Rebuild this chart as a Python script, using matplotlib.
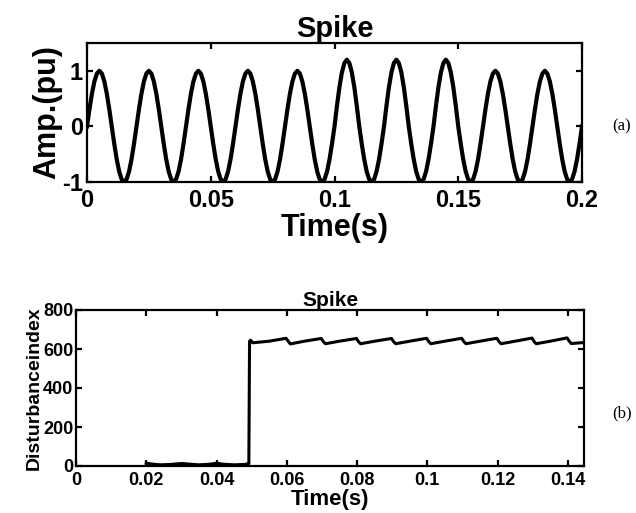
import numpy as np
import matplotlib
matplotlib.use("Agg")
import matplotlib.pyplot as plt

# ---------------- data (a): sampled waveform, 1 ms step ----------------
sample_step = 0.001
# one normalised cycle (20 samples)
cycle_shape = [0.0, 0.31, 0.59, 0.81, 0.95, 1.0, 0.95, 0.81, 0.59, 0.31,
               0.0, -0.31, -0.59, -0.81, -0.95, -1.0, -0.95, -0.81, -0.59, -0.31]
# positive peak amplitude of each of the 10 cycles (spike on cycles 6-8)
peak_amp = [1.0, 1.0, 1.0, 1.0, 1.0, 1.2, 1.2, 1.2, 1.0, 1.0]
# negative peak amplitude of each cycle
trough_amp = [1.0, 1.0, 1.0, 1.0, 1.0, 1.0, 1.0, 1.0, 1.0, 1.0]
end_value = 0.0

# ---------------- data (b): disturbance index ----------------
di_time = [0.0200, 0.0215, 0.0240, 0.0270, 0.0300, 0.0320, 0.0350, 0.0380, 0.0400,
           0.0420, 0.0450, 0.0480, 0.0492, 0.0494, 0.0497, 0.0503,
           0.0550, 0.0598, 0.0604, 0.0610,
           0.0650, 0.0698, 0.0704, 0.0710,
           0.0750, 0.0798, 0.0804, 0.0810,
           0.0850, 0.0898, 0.0904, 0.0910,
           0.0950, 0.0998, 0.1004, 0.1010,
           0.1050, 0.1098, 0.1104, 0.1110,
           0.1150, 0.1198, 0.1204, 0.1210,
           0.1250, 0.1298, 0.1304, 0.1310,
           0.1350, 0.1398, 0.1404, 0.1410, 0.1450]
di_value = [15, 10, 6, 8, 13, 10, 6, 9, 14,
            9, 6, 8, 12, 640, 645, 632,
            640, 655, 640, 626,
            640, 654, 638, 627,
            640, 654, 638, 627,
            640, 654, 638, 627,
            640, 655, 638, 627,
            640, 655, 638, 627,
            640, 655, 638, 627,
            640, 656, 638, 627,
            640, 657, 640, 628, 634]

top_xticks = [0, 0.05, 0.1, 0.15, 0.2]
top_xticklabels = ["0", "0.05", "0.1", "0.15", "0.2"]
top_yticks = [-1, 0, 1]
bot_xticks = [0, 0.02, 0.04, 0.06, 0.08, 0.1, 0.12, 0.14]
bot_xticklabels = ["0", "0.02", "0.04", "0.06", "0.08", "0.1", "0.12", "0.14"]
bot_yticks = [0, 200, 400, 600, 800]

# assemble waveform from the read cycle samples
wave = []
for pa, ta in zip(peak_amp, trough_amp):
    for v in cycle_shape:
        wave.append(v * pa if v >= 0 else v * ta)
wave.append(end_value)
wave = np.array(wave)
t_wave = np.arange(len(wave)) * sample_step

plt.rcParams['font.family'] = ['Liberation Sans', 'DejaVu Sans']
plt.rcParams['axes.unicode_minus'] = False

fig = plt.figure(figsize=(6.36, 5.13), dpi=100)

def style(ax, lw):
    for s in ax.spines.values():
        s.set_linewidth(lw)
    ax.tick_params(direction='in', top=True, right=True, width=lw, length=4)

# ---- top panel ----
ax1 = fig.add_axes([87/636, 1-182/513, 495/636, 139/513])
ax1.plot(t_wave, wave, color='black', lw=3.0, solid_joinstyle='round')
ax1.set_xlim(0, 0.2)
ax1.set_ylim(-1, 1.5)
ax1.set_xticks(top_xticks)
ax1.set_xticklabels(top_xticklabels)
ax1.set_yticks(top_yticks)
style(ax1, 1.6)
ax1.tick_params(labelsize=17)
ax1.tick_params(axis='x', pad=5)
ax1.tick_params(axis='y', pad=3)
for lab in ax1.get_xticklabels() + ax1.get_yticklabels():
    lab.set_fontweight('bold')
ax1.set_title("Spike", fontsize=21, fontweight='bold', pad=4)
ax1.set_xlabel("Time(s)", fontsize=22, fontweight='bold', labelpad=1)
ax1.set_ylabel("Amp.(pu)", fontsize=22, fontweight='bold', labelpad=0)

# ---- bottom panel ----
ax2 = fig.add_axes([76/636, 1-466/513, 508/636, 156/513])
ax2.plot(di_time, di_value, color='black', lw=2.2)
ax2.set_xlim(0, 0.1446)
ax2.set_ylim(0, 800)
ax2.set_xticks(bot_xticks)
ax2.set_xticklabels(bot_xticklabels)
ax2.set_yticks(bot_yticks)
style(ax2, 1.6)
ax2.tick_params(labelsize=13)
ax2.tick_params(axis='x', pad=4)
ax2.tick_params(axis='y', pad=2)
for lab in ax2.get_xticklabels() + ax2.get_yticklabels():
    lab.set_fontweight('bold')
ax2.set_title("Spike", fontsize=15, fontweight='bold', pad=3)
ax2.set_xlabel("Time(s)", fontsize=16, fontweight='bold', labelpad=0)
ax2.set_ylabel("Disturbanceindex", fontsize=14, fontweight='bold', labelpad=0)

fig.text(622/636, 1-126/513, "(a)", fontsize=12, family='Liberation Serif',
         ha='center', va='center')
fig.text(622/636, 1-413/513, "(b)", fontsize=12, family='Liberation Serif',
         ha='center', va='center')

fig.savefig("out.png", dpi=100)
